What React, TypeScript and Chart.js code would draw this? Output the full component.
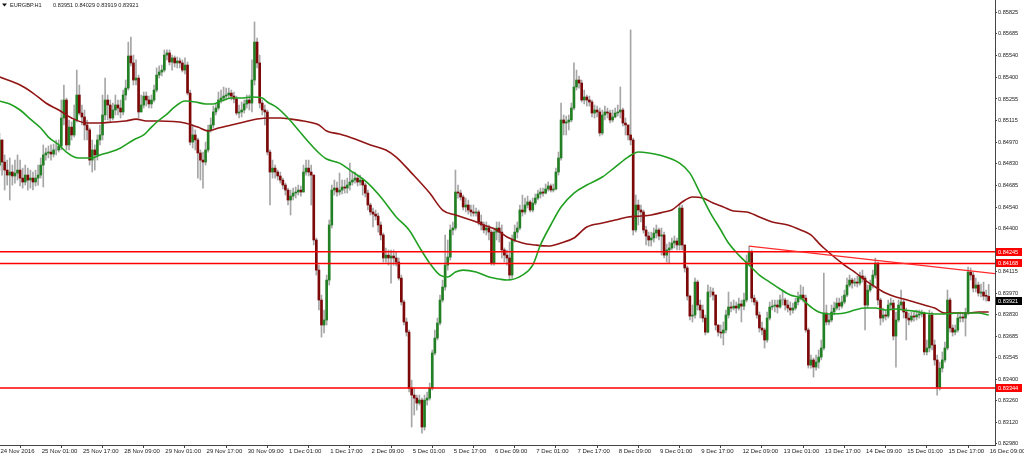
import React, { useEffect, useRef } from 'react';
import { Chart, registerables } from 'chart.js';

Chart.register(...registerables);

const SYMBOL = 'EURGBP.H1';
const FIRST_OPEN = 0.84818;

const closes = [
  0.84984,0.84838,0.84785,0.84752,0.84772,0.84746,0.84765,0.84785,0.84732,0.84706,
  0.84752,0.84719,0.84732,0.84706,0.84732,0.84752,0.84818,0.84885,0.84898,0.84904,
  0.84891,0.84918,0.84918,0.84944,0.85129,0.85248,0.84951,0.85069,0.85017,0.85116,
  0.85281,0.85162,0.85136,0.85083,0.85050,0.84851,0.84918,0.84885,0.84984,0.85017,
  0.85149,0.85248,0.85215,0.85129,0.85182,0.85215,0.85195,0.85169,0.85281,0.85327,
  0.85539,0.85493,0.85380,0.85393,0.85169,0.85215,0.85274,0.85248,0.85222,0.85248,
  0.85314,0.85413,0.85433,0.85446,0.85545,0.85559,0.85499,0.85526,0.85493,0.85506,
  0.85493,0.85446,0.85479,0.85294,0.84970,0.85017,0.84984,0.84898,0.84851,0.84838,
  0.84918,0.85050,0.85083,0.85169,0.85195,0.85248,0.85261,0.85274,0.85281,0.85294,
  0.85274,0.85255,0.85162,0.85169,0.85182,0.85222,0.85248,0.85228,0.85380,0.85631,
  0.85493,0.85228,0.85182,0.85169,0.84904,0.84772,0.84798,0.84772,0.84746,0.84719,
  0.84686,0.84653,0.84587,0.84613,0.84633,0.84640,0.84653,0.84640,0.84772,0.84798,
  0.84772,0.84752,0.84323,0.84124,0.83926,0.83761,0.83794,0.84058,0.84422,0.84653,
  0.84666,0.84640,0.84653,0.84673,0.84666,0.84686,0.84706,0.84719,0.84732,0.84706,
  0.84719,0.84686,0.84633,0.84554,0.84508,0.84494,0.84481,0.84422,0.84356,0.84204,
  0.84223,0.84204,0.84217,0.84204,0.84177,0.84071,0.83913,0.83781,0.83714,0.83344,
  0.83298,0.83278,0.83245,0.83265,0.83087,0.83265,0.83278,0.83344,0.83576,0.83675,
  0.83774,0.83926,0.84012,0.84157,0.84210,0.84389,0.84402,0.84640,0.84633,0.84607,
  0.84541,0.84554,0.84521,0.84508,0.84501,0.84508,0.84442,0.84422,0.84389,0.84402,
  0.84375,0.84170,0.84375,0.84402,0.84375,0.84257,0.84223,0.84204,0.84091,0.84323,
  0.84375,0.84402,0.84521,0.84508,0.84554,0.84574,0.84521,0.84567,0.84600,0.84627,
  0.84640,0.84633,0.84660,0.84680,0.84653,0.84660,0.84772,0.84865,0.85116,0.85096,
  0.85103,0.85116,0.85195,0.85334,0.85380,0.85360,0.85248,0.85268,0.85248,0.85235,
  0.85162,0.85182,0.85169,0.85030,0.85149,0.85169,0.85162,0.85116,0.85136,0.85162,
  0.85169,0.85182,0.85096,0.85083,0.85017,0.84984,0.84389,0.84554,0.84521,0.84508,
  0.84389,0.84349,0.84323,0.84336,0.84369,0.84389,0.84349,0.84356,0.84223,0.84257,
  0.84270,0.84303,0.84316,0.84290,0.84534,0.84290,0.84138,0.83952,0.83820,0.83827,
  0.84045,0.83893,0.83860,0.83807,0.83714,0.83979,0.83979,0.83959,0.83761,0.83714,
  0.83708,0.83728,0.83827,0.83880,0.83873,0.83886,0.83873,0.83900,0.83886,0.83926,
  0.84177,0.84243,0.83939,0.83913,0.83827,0.83741,0.83728,0.83662,0.83807,0.83880,
  0.83886,0.83893,0.83880,0.83926,0.83926,0.83893,0.83873,0.83860,0.83873,0.83913,
  0.83939,0.83959,0.83939,0.83728,0.83496,0.83530,0.83483,0.83516,0.83549,0.83609,
  0.83840,0.83781,0.83794,0.83847,0.83873,0.83906,0.83886,0.83913,0.83959,0.84025,
  0.84058,0.84038,0.84045,0.84038,0.84085,0.84071,0.83893,0.83992,0.84025,0.84091,
  0.84170,0.83926,0.83807,0.83827,0.83820,0.83893,0.83906,0.83688,0.83794,0.83893,
  0.83913,0.83847,0.83807,0.83794,0.83820,0.83814,0.83827,0.83834,0.83840,0.83583,
  0.83609,0.83827,0.83629,0.83530,0.83351,0.83476,0.83530,0.83609,0.83926,0.83741,
  0.83714,0.83728,0.83807,0.83814,0.83807,0.83840,0.84111,0.84091,0.84005,0.84025,
  0.83972,0.83979,0.83952,0.83951,0.83921,
];

const highs = [
  0.85030,0.84984,0.84885,0.84851,0.84865,0.84818,0.84851,0.84885,0.84851,0.84798,
  0.84818,0.84798,0.84785,0.84772,0.84785,0.84818,0.84865,0.84951,0.84931,0.84944,
  0.84951,0.84957,0.84984,0.84984,0.85248,0.85347,0.85261,0.85116,0.85103,0.85215,
  0.85446,0.85347,0.85215,0.85182,0.85116,0.85063,0.84984,0.84951,0.85017,0.85083,
  0.85281,0.85393,0.85281,0.85248,0.85228,0.85281,0.85248,0.85248,0.85314,0.85380,
  0.85631,0.85664,0.85545,0.85513,0.85413,0.85281,0.85301,0.85301,0.85274,0.85281,
  0.85347,0.85460,0.85473,0.85479,0.85579,0.85579,0.85579,0.85545,0.85539,0.85532,
  0.85526,0.85513,0.85526,0.85499,0.85314,0.85083,0.85050,0.84997,0.84918,0.84904,
  0.84970,0.85083,0.85129,0.85208,0.85222,0.85301,0.85314,0.85334,0.85327,0.85327,
  0.85314,0.85301,0.85274,0.85215,0.85235,0.85248,0.85281,0.85281,0.85513,0.85764,
  0.85658,0.85545,0.85248,0.85215,0.85182,0.84918,0.84851,0.84818,0.84785,0.84772,
  0.84732,0.84699,0.84666,0.84653,0.84666,0.84673,0.84686,0.84680,0.84818,0.84851,
  0.84851,0.84818,0.84752,0.84336,0.84157,0.83959,0.83860,0.84091,0.84455,0.84686,
  0.84719,0.84706,0.84765,0.84719,0.84719,0.84732,0.84831,0.84772,0.84772,0.84746,
  0.84752,0.84732,0.84699,0.84653,0.84567,0.84534,0.84521,0.84501,0.84442,0.84369,
  0.84270,0.84257,0.84257,0.84257,0.84243,0.84204,0.84091,0.83926,0.83807,0.83728,
  0.83397,0.83344,0.83298,0.83298,0.83278,0.83298,0.83318,0.83377,0.83596,0.83728,
  0.83807,0.83959,0.84058,0.84356,0.84323,0.84422,0.84442,0.84785,0.84686,0.84653,
  0.84620,0.84600,0.84587,0.84554,0.84554,0.84534,0.84521,0.84488,0.84442,0.84442,
  0.84422,0.84389,0.84402,0.84442,0.84442,0.84422,0.84270,0.84257,0.84309,0.84356,
  0.84422,0.84442,0.84554,0.84620,0.84600,0.84613,0.84587,0.84600,0.84627,0.84653,
  0.84666,0.84666,0.84693,0.84706,0.84693,0.84693,0.84798,0.84904,0.85228,0.85149,
  0.85142,0.85149,0.85228,0.85493,0.85446,0.85407,0.85380,0.85314,0.85281,0.85274,
  0.85248,0.85215,0.85208,0.85195,0.85182,0.85208,0.85195,0.85182,0.85182,0.85195,
  0.85215,0.85334,0.85195,0.85129,0.85083,0.85711,0.84997,0.84620,0.84587,0.84554,
  0.84521,0.84415,0.84375,0.84375,0.84402,0.84422,0.84402,0.84402,0.84375,0.84296,
  0.84309,0.84336,0.84349,0.84336,0.84561,0.84554,0.84290,0.84151,0.83959,0.83893,
  0.84071,0.84058,0.83926,0.83893,0.83827,0.84025,0.84012,0.84005,0.83939,0.83754,
  0.83761,0.83781,0.83860,0.83979,0.83913,0.83926,0.83913,0.83939,0.83926,0.83972,
  0.84223,0.84283,0.84257,0.83959,0.83926,0.83847,0.83781,0.83741,0.83847,0.83913,
  0.83926,0.83926,0.83926,0.83959,0.83992,0.83939,0.83926,0.83913,0.83906,0.83939,
  0.83979,0.84025,0.84012,0.83959,0.83741,0.83563,0.83543,0.83563,0.83596,0.83662,
  0.84104,0.83893,0.83827,0.83893,0.83913,0.83939,0.83939,0.83952,0.83992,0.84071,
  0.84091,0.84071,0.84071,0.84085,0.84111,0.84124,0.84085,0.84025,0.84058,0.84124,
  0.84204,0.84177,0.83939,0.83873,0.83860,0.83926,0.83939,0.83926,0.83847,0.83926,
  0.83992,0.83926,0.83873,0.83840,0.83847,0.83847,0.83860,0.83860,0.83860,0.83847,
  0.83662,0.83860,0.83847,0.83662,0.83563,0.83516,0.83583,0.83648,0.83992,0.83939,
  0.83761,0.83761,0.83834,0.83847,0.83840,0.83873,0.84144,0.84138,0.84111,0.84071,
  0.84045,0.84032,0.84045,0.83992,0.84029,
];

const lows = [
  0.84785,0.84752,0.84653,0.84686,0.84587,0.84686,0.84699,0.84719,0.84680,0.84666,
  0.84686,0.84653,0.84666,0.84653,0.84680,0.84686,0.84732,0.84673,0.84851,0.84865,
  0.84851,0.84871,0.84885,0.84904,0.84918,0.85083,0.84918,0.84918,0.84984,0.85003,
  0.85103,0.85149,0.85083,0.84984,0.84984,0.84818,0.84772,0.84785,0.84851,0.84951,
  0.84984,0.85116,0.85116,0.85103,0.85116,0.85149,0.85149,0.85129,0.85149,0.85248,
  0.85314,0.85473,0.85347,0.85347,0.85129,0.85169,0.85195,0.85208,0.85195,0.85195,
  0.85235,0.85301,0.85393,0.85407,0.85433,0.85513,0.85479,0.85446,0.85466,0.85460,
  0.85460,0.85433,0.85420,0.85281,0.84951,0.84931,0.84918,0.84732,0.84719,0.84666,
  0.84818,0.84904,0.85036,0.85063,0.85149,0.85182,0.85228,0.85241,0.85248,0.85261,
  0.85248,0.85228,0.85149,0.85129,0.85136,0.85162,0.85195,0.85182,0.85169,0.85347,
  0.85460,0.85195,0.85149,0.85083,0.84885,0.84554,0.84732,0.84732,0.84719,0.84699,
  0.84660,0.84620,0.84554,0.84488,0.84587,0.84600,0.84620,0.84613,0.84653,0.84752,
  0.84746,0.84554,0.84290,0.84091,0.83860,0.83681,0.83708,0.83761,0.84025,0.84402,
  0.84620,0.84613,0.84620,0.84627,0.84633,0.84633,0.84653,0.84686,0.84699,0.84680,
  0.84686,0.84620,0.84607,0.84521,0.84488,0.84409,0.84455,0.84375,0.84323,0.84177,
  0.84177,0.84157,0.84038,0.84157,0.84151,0.84058,0.83893,0.83761,0.83688,0.83318,
  0.83087,0.83166,0.83199,0.83232,0.83047,0.83066,0.83232,0.83265,0.83331,0.83563,
  0.83662,0.83761,0.83913,0.83992,0.84124,0.84190,0.84356,0.84389,0.84600,0.84587,
  0.84521,0.84508,0.84494,0.84481,0.84481,0.84481,0.84422,0.84389,0.84369,0.84356,
  0.84323,0.84157,0.84157,0.84323,0.84309,0.84204,0.84177,0.84157,0.84058,0.84071,
  0.84309,0.84336,0.84389,0.84481,0.84494,0.84534,0.84508,0.84508,0.84554,0.84587,
  0.84600,0.84613,0.84627,0.84646,0.84640,0.84640,0.84653,0.84752,0.84851,0.85017,
  0.85017,0.85050,0.85103,0.85182,0.85314,0.85327,0.85235,0.85222,0.85208,0.85208,
  0.85136,0.85129,0.85136,0.85010,0.85017,0.85116,0.85129,0.85096,0.85103,0.85129,
  0.85142,0.85129,0.85076,0.85017,0.84984,0.84951,0.84356,0.84375,0.84422,0.84442,
  0.84369,0.84290,0.84283,0.84283,0.84309,0.84336,0.84323,0.84223,0.84204,0.84177,
  0.84170,0.84257,0.84270,0.84257,0.84257,0.84257,0.84111,0.83926,0.83794,0.83781,
  0.83807,0.83860,0.83807,0.83781,0.83695,0.83708,0.83946,0.83926,0.83728,0.83688,
  0.83675,0.83629,0.83708,0.83807,0.83847,0.83860,0.83840,0.83860,0.83781,0.83860,
  0.83913,0.84157,0.83913,0.83893,0.83807,0.83714,0.83695,0.83609,0.83648,0.83794,
  0.83860,0.83847,0.83840,0.83873,0.83893,0.83860,0.83847,0.83827,0.83840,0.83860,
  0.83893,0.83926,0.83913,0.83714,0.83476,0.83476,0.83417,0.83463,0.83476,0.83530,
  0.83596,0.83761,0.83761,0.83781,0.83827,0.83860,0.83860,0.83873,0.83900,0.83946,
  0.84012,0.84005,0.84018,0.84012,0.84025,0.84045,0.83728,0.83873,0.83979,0.84005,
  0.84071,0.83893,0.83761,0.83781,0.83794,0.83807,0.83860,0.83662,0.83483,0.83781,
  0.83860,0.83807,0.83662,0.83761,0.83781,0.83787,0.83794,0.83807,0.83814,0.83563,
  0.83563,0.83583,0.83596,0.83496,0.83298,0.83331,0.83450,0.83516,0.83596,0.83714,
  0.83688,0.83695,0.83714,0.83781,0.83781,0.83688,0.83827,0.84058,0.83979,0.83979,
  0.83952,0.83946,0.83926,0.83919,0.83919,
];

// Fast moving average (green), read at sampled bars
const fastMaBars = [
  0,4,8,12,16,19,23,26,29,31,36,39,43,47,52,56,59,62,65,68,
  72,76,80,83,86,90,94,98,102,104,108,112,116,120,124,127,132,136,143,148,
  154,159,163,167,171,174,177,180,185,190,194,197,203,207,210,214,218,223,228,234,
  239,244,248,252,256,264,268,272,276,280,283,287,291,295,299,303,307,311,315,318,
  322,328,332,336,340,344,348,351,355,359,363,367,372,376,380,384,
];
const fastMaVals = [
  0.85241,0.85222,0.85182,0.85122,0.85063,0.85003,0.84951,0.84904,0.84871,0.84865,
  0.84865,0.84885,0.84904,0.84931,0.84984,0.85017,0.85069,0.85116,0.85155,0.85202,
  0.85241,0.85235,0.85222,0.85222,0.85241,0.85261,0.85261,0.85268,0.85261,0.85235,
  0.85195,0.85129,0.85050,0.84970,0.84898,0.84858,0.84831,0.84785,0.84699,0.84607,
  0.84475,0.84389,0.84276,0.84170,0.84091,0.84078,0.84111,0.84124,0.84111,0.84078,
  0.84065,0.84058,0.84091,0.84157,0.84290,0.84422,0.84541,0.84633,0.84686,0.84739,
  0.84805,0.84871,0.84904,0.84898,0.84885,0.84831,0.84765,0.84633,0.84501,0.84389,
  0.84303,0.84223,0.84157,0.84091,0.84045,0.83999,0.83959,0.83939,0.83880,0.83847,
  0.83834,0.83840,0.83860,0.83873,0.83873,0.83860,0.83867,0.83860,0.83853,0.83840,
  0.83834,0.83834,0.83840,0.83840,0.83840,0.83827,
];

// Slow moving average (dark red), read at sampled bars
const slowMaBars = [
  0,8,13,18,23,28,34,39,44,49,53,57,62,72,77,81,85,90,95,100,
  105,109,113,118,124,127,132,138,144,150,154,160,167,172,177,183,188,193,197,203,
  208,213,218,223,228,234,239,244,249,253,258,261,265,269,273,277,281,285,290,295,
  300,306,311,315,318,320,328,332,336,340,344,348,351,355,359,363,367,372,376,380,384,
];
const slowMaVals = [
  0.85400,0.85347,0.85294,0.85228,0.85182,0.85129,0.85096,0.85096,0.85103,0.85109,
  0.85122,0.85109,0.85109,0.85096,0.85069,0.85043,0.85063,0.85083,0.85103,0.85122,
  0.85129,0.85129,0.85122,0.85109,0.85083,0.85043,0.85023,0.84990,0.84951,0.84918,
  0.84871,0.84765,0.84633,0.84521,0.84488,0.84455,0.84422,0.84389,0.84343,0.84303,
  0.84290,0.84283,0.84303,0.84336,0.84409,0.84435,0.84455,0.84475,0.84481,0.84488,
  0.84508,0.84521,0.84574,0.84607,0.84600,0.84567,0.84541,0.84514,0.84508,0.84475,
  0.84442,0.84422,0.84389,0.84356,0.84303,0.84270,0.84157,0.84111,0.84058,0.84012,
  0.83972,0.83946,0.83933,0.83913,0.83893,0.83873,0.83840,0.83840,0.83840,0.83847,
  0.83847,
];

const levels = [0.84245, 0.84168, 0.83344];
const trendBars = [291, 386.45];
const trendVals = [0.84283, 0.84101];

const xTickBars = [0,16,32,48,64,80,96,112,128,144,160,176,192,208,224,240,256,272,288,304,320,336,352,368,384];
const xTickLabels = [
  '24 Nov 2016','25 Nov 01:00','25 Nov 17:00','28 Nov 09:00','29 Nov 01:00','29 Nov 17:00',
  '30 Nov 09:00','1 Dec 01:00','1 Dec 17:00','2 Dec 09:00','5 Dec 01:00','5 Dec 17:00',
  '6 Dec 09:00','7 Dec 01:00','7 Dec 17:00','8 Dec 09:00','9 Dec 01:00','9 Dec 17:00',
  '12 Dec 09:00','13 Dec 01:00','13 Dec 17:00','14 Dec 09:00','15 Dec 01:00','15 Dec 17:00','16 Dec 09:00',
];
const yTickLabels = [
  '0.82980','0.83120','0.83260','0.83400','0.83545','0.83685','0.83830','0.83970','0.84115','0.84255',
  '0.84400','0.84540','0.84685','0.84830','0.84970','0.85115','0.85255','0.85400','0.85540','0.85685','0.85825',
];

const X_MIN = 0.2;
const X_MAX = 386.45;
const Y_MIN = 0.82968;
const Y_MAX = 0.85909;
const FONT = '"Liberation Sans", Arial, sans-serif';
const UP = '#237f23';
const DOWN = '#7d0808';
const WICK = '#a6a6a6';

export default function App() {
  const ref = useRef<HTMLCanvasElement>(null);

  useEffect(() => {
    if (!ref.current) return;
    const opens = closes.map((c, i) => (i === 0 ? FIRST_OPEN : closes[i - 1]));
    const wickData = closes.map((c, i) => ({
      x: i,
      y: [Math.min(lows[i], opens[i], c), Math.max(highs[i], opens[i], c)],
    }));
    const bodyData = closes.map((c, i) => ({ x: i, y: [Math.min(opens[i], c), Math.max(opens[i], c)] }));
    const bodyColors = closes.map((c, i) => (c > opens[i] ? UP : c < opens[i] ? DOWN : WICK));
    const last = closes.length - 1;

    const overlay = {
      id: 'overlay',
      afterDraw(chart: any) {
        const { ctx, chartArea } = chart;
        const ys = chart.scales.y;
        ctx.save();
        ctx.textBaseline = 'middle';
        ctx.textAlign = 'left';
        ctx.font = `5.6px ${FONT}`;
        const tag = (v: number, bg: string) => {
          const py = ys.getPixelForValue(v);
          ctx.fillStyle = bg;
          ctx.fillRect(chartArea.right + 1, Math.round(py) - 4, 26, 8);
          ctx.fillStyle = '#ffffff';
          ctx.fillText(v.toFixed(5), chartArea.right + 3, Math.round(py) + 0.5);
        };
        levels.forEach((v) => tag(v, '#ff0000'));
        tag(closes[last], '#000000');
        // title
        ctx.fillStyle = '#111';
        ctx.beginPath();
        ctx.moveTo(2, 3.5);
        ctx.lineTo(7, 3.5);
        ctx.lineTo(4.5, 6.5);
        ctx.closePath();
        ctx.fill();
        ctx.fillStyle = '#222';
        ctx.fillText(SYMBOL, 10, 5);
        ctx.fillText([opens[last], highs[last], lows[last], closes[last]].map((v) => v.toFixed(5)).join(' '), 53, 5);
        ctx.restore();
      },
    };

    const lineDs = (data: any[], color: string, width: number, order: number, tension = 0.4) => ({
      type: 'line' as const,
      data,
      borderColor: color,
      borderWidth: width,
      pointRadius: 0,
      tension,
      cubicInterpolationMode: 'monotone' as const,
      fill: false,
      order,
    });

    const chart = new Chart(ref.current, {
      type: 'line',
      data: {
        datasets: [
          {
            type: 'bar',
            data: wickData as any,
            backgroundColor: WICK,
            barThickness: 1,
            grouped: false,
            borderWidth: 0,
            minBarLength: 1,
            order: 6,
          } as any,
          {
            type: 'bar',
            data: bodyData as any,
            backgroundColor: bodyColors,
            barThickness: 2,
            grouped: false,
            borderWidth: 0,
            minBarLength: 1,
            order: 5,
          } as any,
          lineDs(slowMaBars.map((b, i) => ({ x: b, y: slowMaVals[i] })), '#921515', 1.6, 4),
          lineDs(fastMaBars.map((b, i) => ({ x: b, y: fastMaVals[i] })), '#20a020', 1.6, 3),
          ...levels.map((v) => lineDs([{ x: X_MIN, y: v }, { x: X_MAX, y: v }], '#ff0000', 1.5, 2, 0)),
          lineDs(trendBars.map((b, i) => ({ x: b, y: trendVals[i] })), '#ff2a2a', 1.3, 1, 0),
        ] as any,
      },
      options: {
        responsive: false,
        animation: false,
        devicePixelRatio: 1,
        events: [],
        layout: { padding: 0 },
        plugins: {
          legend: { display: false },
          tooltip: { enabled: false },
          title: { display: false },
        },
        scales: {
          x: {
            type: 'linear',
            min: X_MIN,
            max: X_MAX,
            offset: false,
            afterBuildTicks: (s: any) => {
              s.ticks = xTickBars.map((v) => ({ value: v }));
            },
            afterFit: (s: any) => {
              s.height = 11;
              s.paddingLeft = 0;
              s.paddingRight = 0;
            },
            ticks: {
              autoSkip: false,
              maxRotation: 0,
              minRotation: 0,
              align: 'start',
              labelOffset: 1,
              padding: 0,
              color: '#222',
              font: { family: FONT, size: 6 },
              callback: (v: any) => {
                const k = xTickBars.indexOf(Number(v));
                return k >= 0 ? xTickLabels[k] : '';
              },
            },
            grid: { drawOnChartArea: false, drawTicks: true, tickLength: 3, color: '#444' },
            border: { display: true, color: '#444', width: 1 },
          } as any,
          y: {
            type: 'linear',
            position: 'right',
            min: Y_MIN,
            max: Y_MAX,
            beginAtZero: false,
            afterBuildTicks: (s: any) => {
              s.ticks = yTickLabels.map((t) => ({ value: parseFloat(t) }));
            },
            afterFit: (s: any) => {
              s.width = 29;
              s.paddingTop = 0;
              s.paddingBottom = 0;
            },
            ticks: {
              autoSkip: false,
              padding: 1,
              color: '#222',
              font: { family: FONT, size: 5.6 },
              callback: (_v: any, i: number) => yTickLabels[i],
            },
            grid: { drawOnChartArea: false, drawTicks: true, tickLength: 2, color: '#444' },
            border: { display: true, color: '#444', width: 1 },
          } as any,
        },
      },
      plugins: [overlay],
    });

    return () => chart.destroy();
  }, []);

  return (
    <div style={{ position: 'fixed', left: 0, top: 0, width: 1024, height: 456, background: '#ffffff' }}>
      <canvas ref={ref} width={1024} height={456} style={{ display: 'block' }} />
    </div>
  );
}
